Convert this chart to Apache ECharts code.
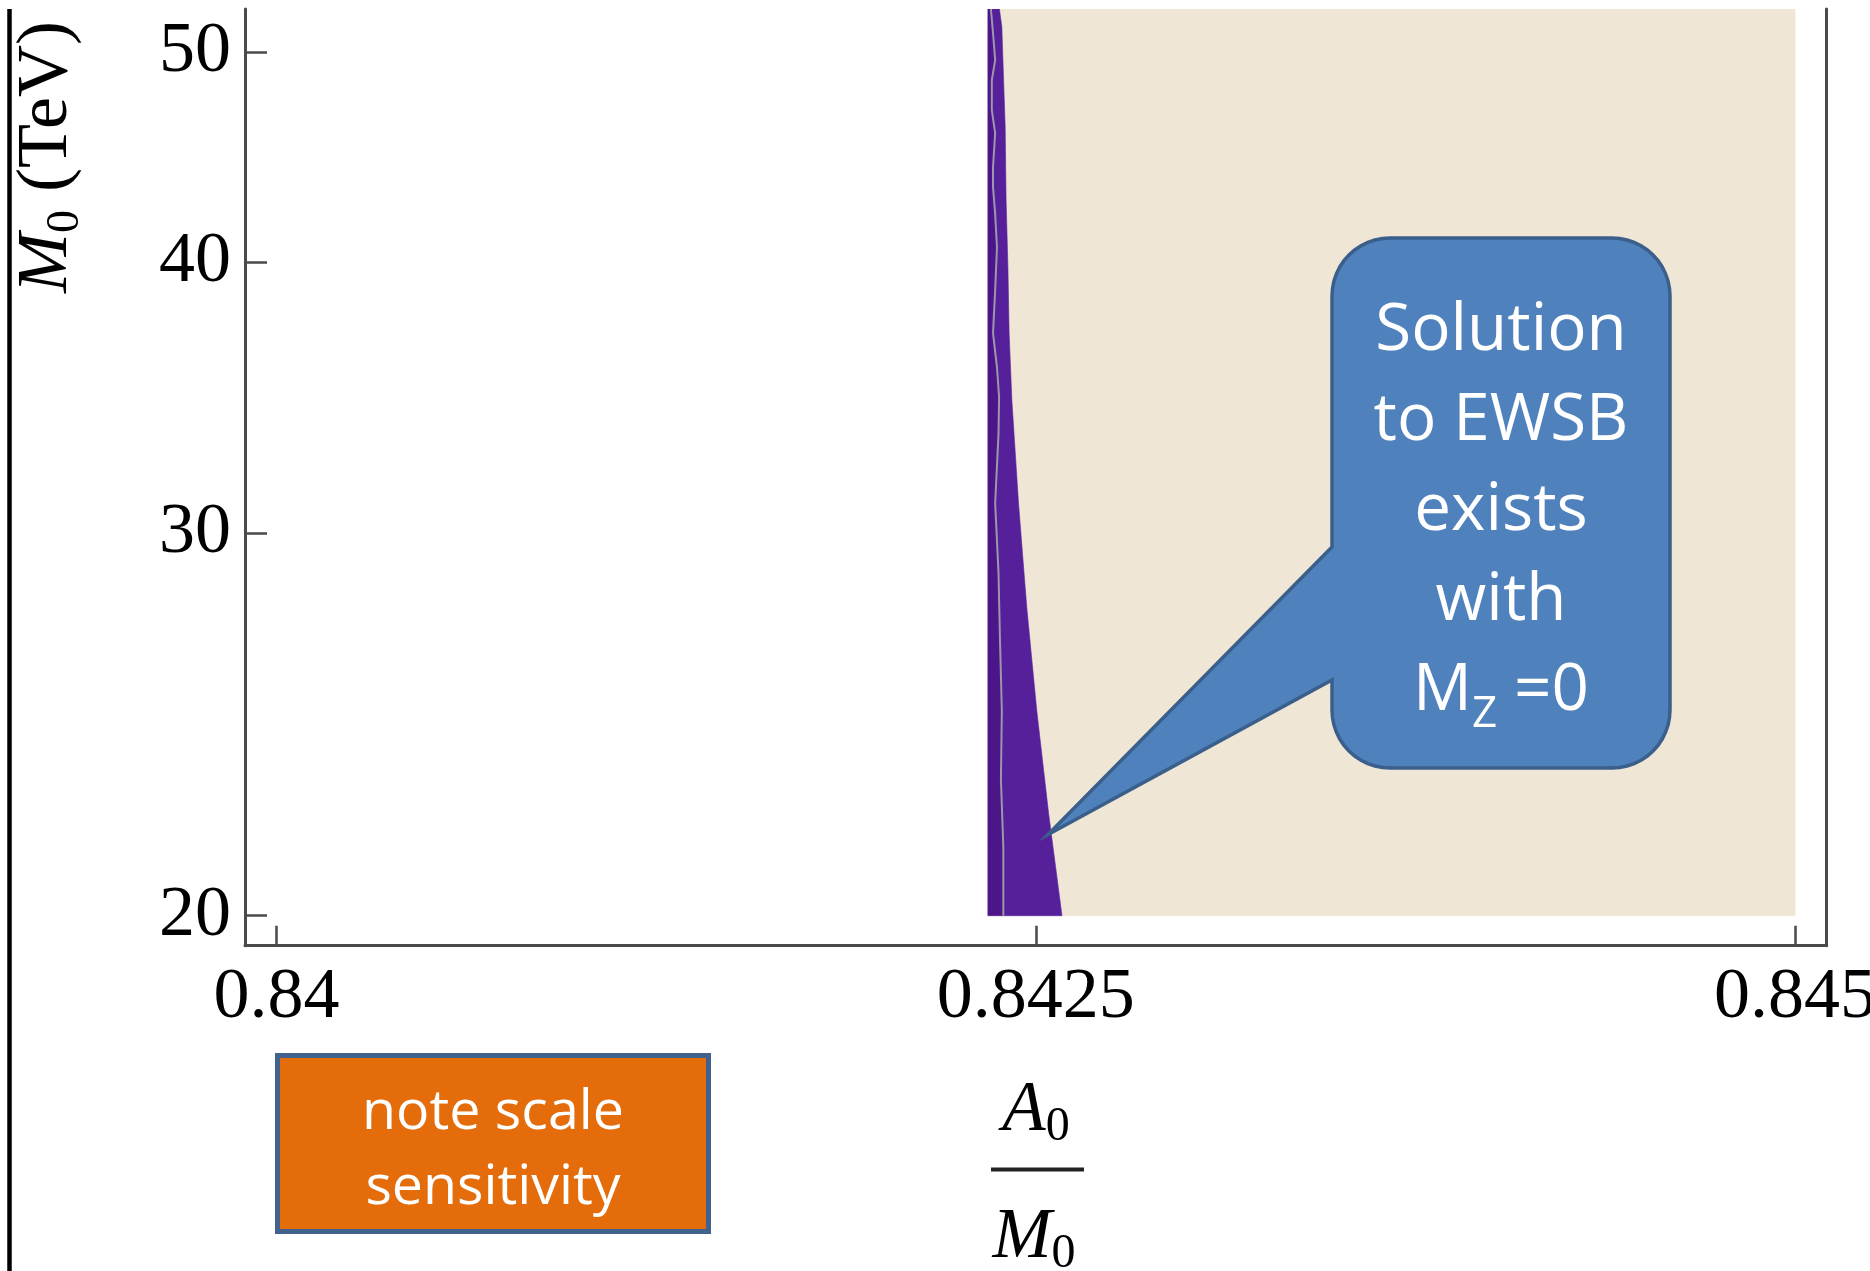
<!DOCTYPE html>
<html>
<head>
<meta charset="utf-8">
<script src="https://cdn.jsdelivr.net/npm/echarts@6/dist/echarts.min.js"></script>
<style>
  html, body { margin: 0; padding: 0; background: #ffffff; }
  #chart { width: 1870px; height: 1271px; }
</style>
</head>
<body>
<div id="chart"></div>
<script>
// ---- data -------------------------------------------------------------
// Right-hand boundary of the purple band: A0/M0 at each M0 (TeV)
const bandM0     = [20, 22.29, 24.86, 27.74, 30.97, 34.55, 37.1, 39.79, 42.72, 46.16, 48.88, 51.33, 52.32];
const bandRightA = [0.842586, 0.842542, 0.842503, 0.842470, 0.842443, 0.842421, 0.842412, 0.842408, 0.842402, 0.842399, 0.842393, 0.842388, 0.842380];
// Left-hand boundary of the purple band (vertical)
const bandLeftA = 0.842342;
// Right edge of the shaded solution region
const regionRightA = 0.845;

// Grey contour running through the purple band
const contourM0 = [20, 21.48, 23.11, 24.86, 26.76, 28.79, 30.97, 33.33, 34.66, 35.78, 37.1, 38.83, 40.64, 42.1, 43.3, 44.25, 45.87, 47.0, 48.52, 49.56, 51.0, 52.32];
const contourA  = [0.842393, 0.842393, 0.842385, 0.842388, 0.842382, 0.842377, 0.842366, 0.842377, 0.842379, 0.842372, 0.842359, 0.842366, 0.842372, 0.842366, 0.842359, 0.842359, 0.842366, 0.842355, 0.842355, 0.842366, 0.842359, 0.842352];

// Axis ticks
const xTicks = [0.84, 0.8425, 0.845];
const yTicks = [20, 30, 40, 50];

// Point the speech bubble aims at (A0/M0, M0)
const calloutTarget = [0.84254, 21.8];

// Annotation texts
const calloutLines = ['Solution', 'to EWSB', 'exists', 'with'];
const noteLines = ['note scale', 'sensitivity'];

// ---- derived geometry (data space) -------------------------------------
const bandRightPts = bandM0.map((m, i) => [bandRightA[i], m]);
const contourPts = contourM0.map((m, i) => [contourA[i], m]);
const yBottom = bandM0[0];
const yTop = bandM0[bandM0.length - 1];

const regions = [
  { // beige: solution exists
    color: '#F0E6D5',
    pts: bandRightPts.concat([[regionRightA, yTop], [regionRightA, yBottom]])
  },
  { // lighter purple part of the band
    color: '#55209A',
    pts: contourPts.concat(bandRightPts.slice().reverse())
  },
  { // darker purple strip at the left of the band
    color: '#4C1688',
    pts: [[bandLeftA, yBottom], [bandLeftA, yTop]].concat(contourPts.slice().reverse())
  }
];

const axisColor = '#4a4a4a';
const serif = 'Liberation Serif';
const sans = 'Open Sans';

const chart = echarts.init(document.getElementById('chart'), null, { renderer: 'canvas' });

chart.setOption({
  animation: false,
  backgroundColor: '#ffffff',
  grid: { left: 245, right: 43.3, top: 9, bottom: 325.3, containLabel: false, outerBoundsMode: 'none' },
  xAxis: {
    type: 'value',
    min: 0.839896,
    max: 0.845104,
    axisLine: { show: true, onZero: false, lineStyle: { color: axisColor, width: 3 } },
    axisTick: { show: true, inside: true, length: 20, customValues: xTicks, lineStyle: { color: axisColor, width: 2.5 } },
    axisLabel: {
      customValues: xTicks,
      formatter: v => String(v),
      fontFamily: serif, fontSize: 72, color: '#000', margin: 16
    },
    splitLine: { show: false }
  },
  yAxis: [{
    type: 'log',
    logBase: 10,
    min: 19.374,
    max: 52.32,
    axisLine: { show: true, onZero: false, lineStyle: { color: axisColor, width: 3 } },
    axisTick: { show: true, inside: true, length: 22, customValues: yTicks, lineStyle: { color: axisColor, width: 2.5 } },
    axisLabel: {
      customValues: yTicks,
      fontFamily: serif, fontSize: 72, color: '#000', margin: 14,
      padding: [0, 0, 12, 0]
    },
    splitLine: { show: false },
    minorTick: { show: false }
  }, {
    type: 'log',
    logBase: 10,
    position: 'right',
    min: 19.374,
    max: 52.32,
    axisLine: { show: true, onZero: false, lineStyle: { color: axisColor, width: 3 } },
    axisTick: { show: false },
    axisLabel: { show: false },
    splitLine: { show: false }
  }],
  series: [{
    type: 'custom',
    clip: true,
    silent: true,
    data: regions.map((r, i) => [bandLeftA, yBottom, i]),
    renderItem: function (params, api) {
      const r = regions[params.dataIndex];
      return {
        type: 'polygon',
        shape: { points: r.pts.map(p => api.coord(p)) },
        style: { fill: r.color, stroke: r.color, lineWidth: 0.6 }
      };
    },
    z: 1
  }, {
    type: 'line',
    data: contourPts,
    showSymbol: false,
    silent: true,
    lineStyle: { color: '#9E96AC', width: 2 },
    z: 3
  }]
});

// ---- annotations ---------------------------------------------------------
const tip = chart.convertToPixel({ gridIndex: 0 }, calloutTarget);

// speech bubble outline: rounded rectangle with a pointer on its left side
function bubblePoints(L, T, R, B, r, y1, y2, tx, ty) {
  const pts = [];
  const arc = (cx, cy, a0, a1) => {
    for (let k = 0; k <= 12; k++) {
      const a = (a0 + (a1 - a0) * k / 12) * Math.PI / 180;
      pts.push([cx + r * Math.cos(a), cy + r * Math.sin(a)]);
    }
  };
  arc(L + r, T + r, 180, 270);
  arc(R - r, T + r, 270, 360);
  arc(R - r, B - r, 0, 90);
  arc(L + r, B - r, 90, 180);
  pts.push([L, y2], [tx, ty], [L, y1]);
  return pts;
}

const bubble = bubblePoints(1332, 238, 1670, 768, 58, 547, 680, tip[0], tip[1]);

chart.setOption({
  graphic: [
    // slide divider at the far left
    { type: 'line', shape: { x1: 9.5, y1: 9, x2: 9.5, y2: 1271 }, style: { stroke: '#000', lineWidth: 4.5 }, z: 10 },
    // vertical axis title
    {
      type: 'text', x: 47, y: 157, rotation: Math.PI / 2, z: 10,
      style: {
        text: '{i|M}{s|0}{n| (TeV)}',
        align: 'center', verticalAlign: 'middle', fill: '#000',
        rich: {
          i: { fontFamily: serif, fontStyle: 'italic', fontSize: 72, lineHeight: 84, fill: '#000' },
          s: { fontFamily: serif, fontSize: 46, lineHeight: 46, verticalAlign: 'bottom', fill: '#000' },
          n: { fontFamily: serif, fontSize: 72, lineHeight: 84, fill: '#000' }
        }
      }
    },
    // horizontal axis title: A0 / M0 as a fraction
    {
      type: 'text', x: 1036, y: 1111, z: 10,
      style: {
        text: '{i|A}{s|0}',
        align: 'center', verticalAlign: 'middle', fill: '#000',
        rich: {
          i: { fontFamily: serif, fontStyle: 'italic', fontSize: 71, lineHeight: 80, fill: '#000' },
          s: { fontFamily: serif, fontSize: 48, lineHeight: 44, verticalAlign: 'bottom', fill: '#000' }
        }
      }
    },
    { type: 'line', shape: { x1: 991, y1: 1169.5, x2: 1084, y2: 1169.5 }, style: { stroke: '#222', lineWidth: 4 }, z: 10 },
    {
      type: 'text', x: 1034, y: 1238, z: 10,
      style: {
        text: '{i|M}{s|0}',
        align: 'center', verticalAlign: 'middle', fill: '#000',
        rich: {
          i: { fontFamily: serif, fontStyle: 'italic', fontSize: 71, lineHeight: 80, fill: '#000' },
          s: { fontFamily: serif, fontSize: 48, lineHeight: 46, verticalAlign: 'bottom', fill: '#000' }
        }
      }
    },
    // speech bubble
    {
      type: 'polygon', z: 20,
      shape: { points: bubble },
      style: { fill: '#4F81BD', stroke: '#3A5F8B', lineWidth: 3.5 }
    },
    {
      type: 'text', x: 1501, y: 511, z: 21,
      style: {
        text: calloutLines.map(s => '{a|' + s + '}').join('\n') + '\n{a|M}{z|Z}{a| =0}',
        align: 'center', verticalAlign: 'middle', fill: '#fff',
        rich: {
          a: { fontFamily: sans, fontSize: 65.5, lineHeight: 90, fill: '#fff' },
          z: { fontFamily: sans, fontSize: 44, lineHeight: 38, verticalAlign: 'bottom', fill: '#fff' }
        }
      }
    },
    // orange note box
    {
      type: 'rect', z: 20,
      shape: { x: 277.5, y: 1055.5, width: 431, height: 176 },
      style: { fill: '#E46C0A', stroke: '#41628F', lineWidth: 5 }
    },
    {
      type: 'text', x: 493, y: 1151, z: 21,
      style: {
        text: noteLines.join('\n'),
        align: 'center', verticalAlign: 'middle', fill: '#fff',
        fontFamily: sans, fontSize: 55.5, lineHeight: 75
      }
    }
  ]
});
</script>
</body>
</html>
